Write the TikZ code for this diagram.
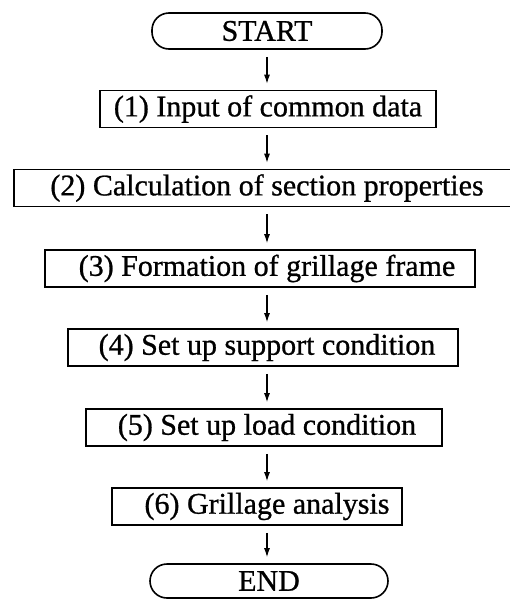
\documentclass[tikz,border=0pt]{standalone}
\usepackage{fontspec}
\setmainfont{Liberation Serif}[BoldFont=Liberation Serif,BoldFeatures={FakeBold=0.8}]
\usetikzlibrary{arrows.meta}

\tikzset{
  stepbox/.style={draw, line width=1.6pt, inner sep=0pt,
    minimum height=37pt, font=\fontsize{30}{30}\selectfont\bfseries},
  termbox/.style={stepbox, rounded corners=17pt},
  flow/.style={-{Latex[length=9pt,width=6pt]}, line width=1.2pt,
    shorten <=7pt, shorten >=6pt}
}
% text pushed right inside its box by half of #1
\newcommand{\pushtext}[2]{\hspace*{#1pt}#2}

\begin{document}
\begin{tikzpicture}[x=1pt, y=-1pt]
  \useasboundingbox[fill=white] (0,0) rectangle (510,600);
  \coordinate (col) at (267,0);

  % terminals and process steps
  \node[termbox, minimum width=230pt, minimum height=36pt] (start) at (267,31) {START};
  \node[stepbox, minimum width=336pt] (s1) at (268,109)   {(1) Input of common data};
  \node[stepbox, minimum width=506pt] (s2) at (267,188)   {(2) Calculation of section properties};
  \node[stepbox, minimum width=430pt] (s3) at (260,268.5) {\pushtext{14}{(3) Formation of grillage frame}};
  \node[stepbox, minimum width=390pt] (s4) at (263,347.5) {\pushtext{8}{(4) Set up support condition}};
  \node[stepbox, minimum width=356pt] (s5) at (264,427.5) {\pushtext{6}{(5) Set up load condition}};
  \node[stepbox, minimum width=290pt] (s6) at (257,506.5) {\pushtext{20}{(6) Grillage analysis}};
  \node[termbox, minimum width=238pt, minimum height=34pt] (end) at (269,581) {END};

  % connectors down the common column
  \foreach \a/\b in {start/s1, s1/s2, s2/s3, s3/s4, s4/s5, s5/s6, s6/end}
    \draw[flow] (\a.south -| col) -- (\b.north -| col);
\end{tikzpicture}
\end{document}
